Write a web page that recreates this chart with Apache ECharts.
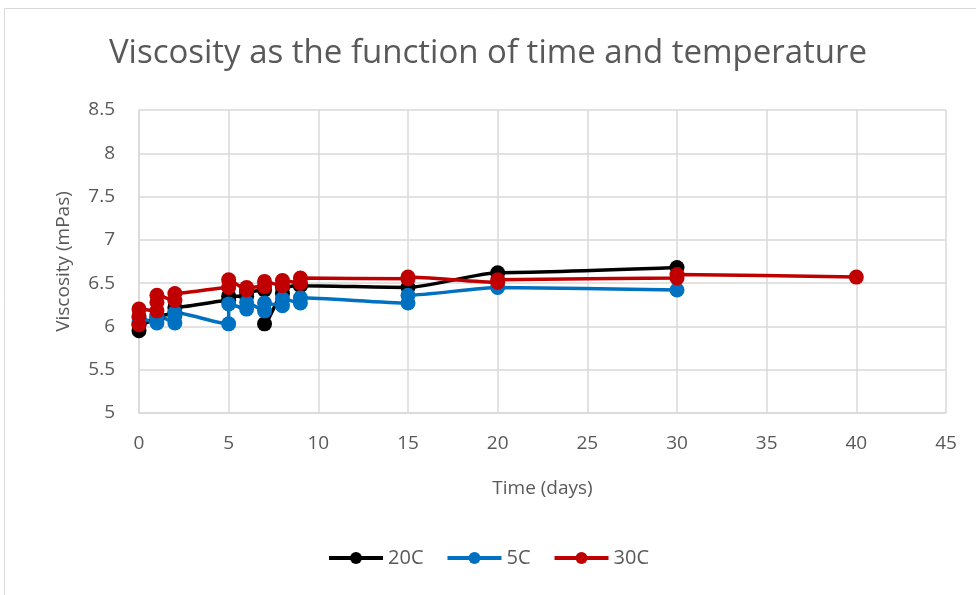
<!DOCTYPE html>
<html>
<head>
<meta charset="utf-8">
<script src="https://cdn.jsdelivr.net/npm/echarts@6/dist/echarts.min.js"></script>
<style>
  html, body { margin: 0; padding: 0; background: #ffffff; }
  #chart { width: 976px; height: 595px; }
</style>
</head>
<body>
<div id="chart"></div>
<script>
// Measurements: time in days, viscosity in mPas (replicate readings share a day)
const days20 = [0, 0, 1, 1, 2, 2, 5, 5, 6, 6, 7, 7, 8, 8, 9, 9, 15, 20, 30];
const visc20 = [5.95, 6.02, 6.08, 6.12, 6.15, 6.22, 6.30, 6.35, 6.35, 6.40, 6.42, 6.03, 6.38, 6.45, 6.48, 6.47, 6.45, 6.62, 6.68];

const days5 = [0, 0, 1, 1, 1, 2, 2, 2, 5, 5, 6, 6, 7, 7, 8, 8, 9, 9, 15, 15, 20, 30];
const visc5 = [6.05, 6.10, 6.04, 6.10, 6.14, 6.04, 6.12, 6.16, 6.03, 6.26, 6.20, 6.28, 6.18, 6.27, 6.24, 6.32, 6.27, 6.33, 6.27, 6.36, 6.45, 6.42];

const days30 = [0, 0, 0, 1, 1, 1, 2, 2, 5, 5, 6, 6, 7, 7, 8, 8, 9, 9, 15, 15, 20, 20, 30, 30, 40];
const visc30 = [6.02, 6.12, 6.20, 6.18, 6.28, 6.36, 6.30, 6.38, 6.45, 6.54, 6.42, 6.45, 6.46, 6.52, 6.47, 6.53, 6.50, 6.56, 6.55, 6.57, 6.51, 6.54, 6.56, 6.60, 6.57];

const seriesNames = ['20C', '5C', '30C'];
const seriesColors = ['#000000', '#0070C0', '#C00000'];

const xTicks = { min: 0, max: 45, interval: 5 };
const yTicks = { min: 5, max: 8.5, interval: 0.5 };

function pairs(xs, ys) {
  return xs.map((x, i) => [x, ys[i]]);
}

const textColor = '#595959';
const fontFamily = "'Open Sans', 'Noto Sans', sans-serif";

const chart = echarts.init(document.getElementById('chart'), null, { renderer: 'canvas' });

const dataSets = [pairs(days20, visc20), pairs(days5, visc5), pairs(days30, visc30)];

chart.setOption({
  backgroundColor: '#ffffff',
  animation: false,
  title: {
    text: 'Viscosity as the function of time and temperature',
    left: 'center',
    top: 32,
    textStyle: { color: textColor, fontSize: 33, fontWeight: 'normal', fontFamily: fontFamily }
  },
  graphic: [{
    type: 'rect',
    shape: { x: 4.5, y: 8.5, width: 1000, height: 1000 },
    style: { fill: 'none', stroke: '#d9d9d9', lineWidth: 1 },
    silent: true
  }],
  grid: { left: 139, right: 30, top: 110, bottom: 182, containLabel: false },
  legend: {
    bottom: 22,
    left: 'center',
    itemWidth: 54,
    itemHeight: 15,
    itemGap: 22,
    lineStyle: { width: 4 },
    textStyle: { color: textColor, fontSize: 20, fontFamily: fontFamily },
    data: seriesNames
  },
  xAxis: {
    type: 'value',
    min: xTicks.min, max: xTicks.max, interval: xTicks.interval,
    name: 'Time (days)',
    nameLocation: 'middle',
    nameGap: 66,
    nameTextStyle: { color: textColor, fontSize: 19, fontFamily: fontFamily },
    axisLine: { show: true, lineStyle: { color: '#d9d9d9', width: 1.5 } },
    axisTick: { show: false },
    axisLabel: { color: textColor, fontSize: 19, margin: 21, fontFamily: fontFamily },
    splitLine: { show: true, lineStyle: { color: '#d9d9d9', width: 1.5 } }
  },
  yAxis: {
    type: 'value',
    min: yTicks.min, max: yTicks.max, interval: yTicks.interval,
    name: 'Viscosity (mPas)',
    nameLocation: 'middle',
    nameGap: 66,
    nameTextStyle: { color: textColor, fontSize: 19, fontFamily: fontFamily },
    axisLine: { show: true, lineStyle: { color: '#d9d9d9', width: 1.5 } },
    axisTick: { show: false },
    axisLabel: { color: textColor, fontSize: 19, margin: 24, fontFamily: fontFamily },
    splitLine: { show: true, lineStyle: { color: '#d9d9d9', width: 1.5 } }
  },
  series: seriesNames.map((name, i) => ({
    name: name,
    type: 'line',
    data: dataSets[i],
    smooth: 0.2,
    smoothMonotone: 'x',
    symbol: 'circle',
    symbolSize: 15,
    showAllSymbol: true,
    lineStyle: { color: seriesColors[i], width: 3.5 },
    itemStyle: { color: seriesColors[i] }
  }))
});
</script>
</body>
</html>
